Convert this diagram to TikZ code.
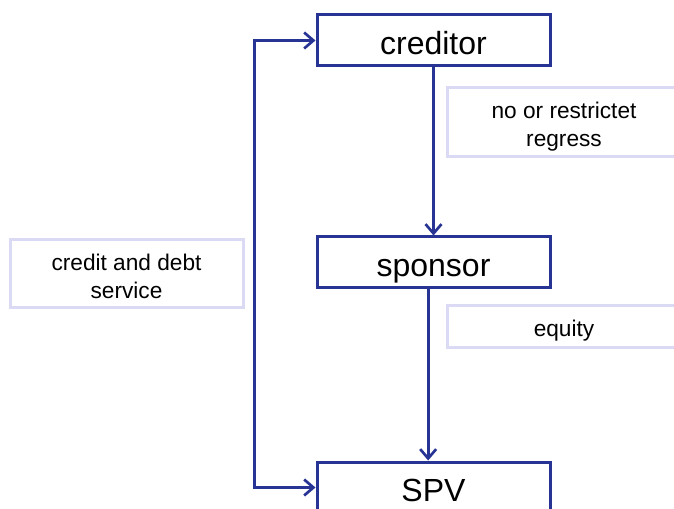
\documentclass[tikz,border=0pt]{standalone}
\usepackage{fontspec}
\setmainfont{Liberation Sans}
\usetikzlibrary{arrows.meta}
\definecolor{boxblue}{RGB}{40,52,148}
\definecolor{lablilac}{RGB}{218,218,245}
\newcommand{\topstrut}{\rule{0pt}{1.1em}}
\newcommand{\botstrut}{\rule[-0.212em]{0pt}{0pt}}
\tikzset{
  party/.style={draw=boxblue, line width=2.25pt, fill=white, minimum width=174.75pt,
    minimum height=38.25pt, inner sep=0pt, text height=26pt, text depth=5.1pt,
    font=\fontsize{24}{28}\selectfont},
  note/.style={draw=lablilac, line width=2.25pt, fill=white, minimum width=174.75pt,
    inner sep=0pt, align=center, font=\fontsize{17}{21}\selectfont},
  flow/.style={draw=boxblue, line width=2.25pt, -{Straight Barb[length=7pt,width=12pt,line width=2pt]}}
}
\begin{document}
\begin{tikzpicture}[x=0.75pt,y=-0.75pt]
  \useasboundingbox (0,0) rectangle (674,509);
  \node[party] (creditor) at (433.5,40.5) {creditor}; % top
  \node[party] (sponsor) at (433.5,262.5) {sponsor}; % middle
  \node[party] (spv) at (433.5,487.5) {SPV}; % bottom, cut off
  \node[note, minimum height=51.75pt] (regress) at (564,122.5) {\topstrut no or restrictet\\regress\botstrut};
  \node[note, minimum height=30.75pt] (equity) at (564,326.5) {\topstrut equity\botstrut};
  \node[note, minimum height=51pt] (service) at (126.5,274) {\topstrut credit and debt\\service\botstrut};
  \coordinate (loop) at (254,0);
  \draw[flow] (creditor.south) -- (sponsor.north);
  \draw[flow] ([xshift=-4pt]sponsor.south) -- ([xshift=-4pt]spv.north);
  \draw[flow, {Straight Barb[length=7pt,width=12pt,line width=2pt]}-{Straight Barb[length=7pt,width=12pt,line width=2pt]}]
    (creditor.west) -- (creditor.west -| loop) -- (spv.west -| loop) -- (spv.west);
\end{tikzpicture}
\end{document}
